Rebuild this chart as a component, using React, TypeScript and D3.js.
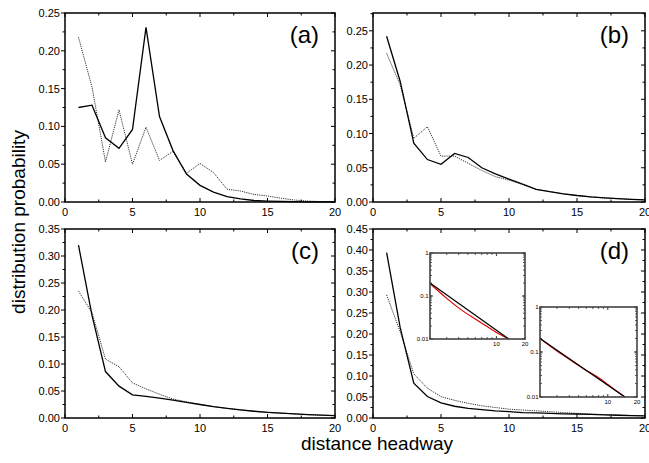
import * as d3 from 'd3';

// distance headway (x values of the main panels)
const headway = [1, 2, 3, 4, 5, 6, 7, 8, 9, 10, 11, 12, 13, 14, 15, 16, 17, 18, 19, 20];

// panel (a)
const aSolid = [0.125, 0.128, 0.085, 0.071, 0.096, 0.231, 0.113, 0.068, 0.037, 0.022, 0.013, 0.007, 0.004, 0.002, 0.0012, 0.0007, 0.0004, 0.0002, 0.0001, 0.0001];
const aDotted = [0.218, 0.152, 0.053, 0.122, 0.050, 0.099, 0.055, 0.067, 0.038, 0.051, 0.039, 0.017, 0.0145, 0.010, 0.008, 0.005, 0.0026, 0.0012, 0.0005, 0.0002];

// panel (b)
const bSolid = [0.242, 0.176, 0.086, 0.062, 0.055, 0.071, 0.065, 0.050, 0.041, 0.0335, 0.026, 0.0185, 0.015, 0.012, 0.0095, 0.0075, 0.006, 0.0048, 0.0038, 0.003];
const bDotted = [0.217, 0.171, 0.093, 0.110, 0.067, 0.067, 0.0565, 0.046, 0.037, 0.032, 0.0255, 0.0185, 0.015, 0.012, 0.0095, 0.0075, 0.006, 0.0048, 0.0038, 0.003];

// panel (c)
const cSolid = [0.320, 0.190, 0.086, 0.059, 0.043, 0.040, 0.037, 0.033, 0.029, 0.025, 0.021, 0.018, 0.015, 0.0125, 0.0105, 0.009, 0.0075, 0.0062, 0.0052, 0.0043];
const cDotted = [0.235, 0.195, 0.109, 0.095, 0.065, 0.054, 0.044, 0.035, 0.030, 0.025, 0.021, 0.018, 0.015, 0.0125, 0.0105, 0.009, 0.0075, 0.0062, 0.0052, 0.0043];

// panel (d)
const dSolid = [0.394, 0.215, 0.083, 0.051, 0.036, 0.028, 0.023, 0.020, 0.017, 0.015, 0.013, 0.012, 0.011, 0.010, 0.0095, 0.0085, 0.0075, 0.0065, 0.0058, 0.005];
const dDotted = [0.293, 0.205, 0.105, 0.071, 0.051, 0.042, 0.035, 0.029, 0.025, 0.021, 0.019, 0.017, 0.015, 0.013, 0.011, 0.0095, 0.0082, 0.007, 0.006, 0.0052];

// insets (log-log)
const inset1FitX = [2, 13.5];
const inset1FitY = [0.2, 0.01];
const inset1DataX = [2, 3, 4, 6, 8, 10, 12, 13.5];
const inset1DataY = [0.195, 0.088, 0.053, 0.029, 0.0195, 0.0142, 0.0114, 0.01];
const inset2FitX = [2, 15];
const inset2FitY = [0.2, 0.01];
const inset2DataX = [2, 3, 4, 6, 8, 10, 12, 15];
const inset2DataY = [0.2, 0.105, 0.069, 0.039, 0.027, 0.019, 0.0141, 0.01];

const xTicks = [0, 5, 10, 15, 20];
const xMinor = [2.5, 7.5, 12.5, 17.5];

const font = 'Arial, "Liberation Sans", Helvetica, sans-serif';
const fmt = d3.format('.2f');

type PanelProps = {
  left: number; top: number; right: number; bottom: number;
  yMax: number; yTickMax: number; label: string;
  solid: number[]; dotted: number[];
};

function Panel({ left, top, right, bottom, yMax, yTickMax, label, solid, dotted }: PanelProps) {
  const x = d3.scaleLinear().domain([0, 20]).range([left, right]);
  const y = d3.scaleLinear().domain([0, yMax]).range([bottom, top]);
  const yMajor = d3.range(0, yTickMax + 1e-9, 0.05);
  const yMinorT = d3.range(0.025, yMax, 0.05);
  const line = d3.line<number>().x((_, i) => x(headway[i])).y(d => y(d));
  const maj = 4, mnr = 2.5;
  return (
    <g>
      <path d={line(dotted) ?? ''} fill="none" stroke="#333" strokeWidth={1} strokeDasharray="1.2,1" />
      <path d={line(solid) ?? ''} fill="none" stroke="#000" strokeWidth={1.3} />
      {/* bottom ticks point up, top ticks point down */}
      {xTicks.map(t => (
        <g key={'xt' + t}>
          <line x1={x(t)} x2={x(t)} y1={bottom} y2={bottom - maj} stroke="#000" />
          <line x1={x(t)} x2={x(t)} y1={top} y2={top + maj} stroke="#000" />
          <text x={x(t)} y={bottom + 14} textAnchor="middle" fontSize={11} fontFamily={font}>{t}</text>
        </g>
      ))}
      {xMinor.map(t => (
        <g key={'xm' + t}>
          <line x1={x(t)} x2={x(t)} y1={bottom} y2={bottom - mnr} stroke="#000" />
          <line x1={x(t)} x2={x(t)} y1={top} y2={top + mnr} stroke="#000" />
        </g>
      ))}
      {/* left ticks point out, right ticks point in */}
      {yMajor.map(t => (
        <g key={'yt' + t}>
          <line x1={left} x2={left - maj} y1={y(t)} y2={y(t)} stroke="#000" />
          <line x1={right} x2={right - maj} y1={y(t)} y2={y(t)} stroke="#000" />
          <text x={left - 5} y={y(t) + 4} textAnchor="end" fontSize={11} fontFamily={font}>{fmt(t)}</text>
        </g>
      ))}
      {yMinorT.map(t => (
        <g key={'ym' + t}>
          <line x1={left} x2={left - mnr} y1={y(t)} y2={y(t)} stroke="#000" />
          <line x1={right} x2={right - mnr} y1={y(t)} y2={y(t)} stroke="#000" />
        </g>
      ))}
      <rect x={left} y={top} width={right - left} height={bottom - top} fill="none" stroke="#000" strokeWidth={1.5} />
      <text x={right - 16} y={top + 30} textAnchor="end" fontSize={24} fontFamily={font}>{label}</text>
    </g>
  );
}

type InsetProps = {
  left: number; top: number; right: number; bottom: number;
  fitX: number[]; fitY: number[]; dataX: number[]; dataY: number[];
};

function Inset({ left, top, right, bottom, fitX, fitY, dataX, dataY }: InsetProps) {
  const x = d3.scaleLog().domain([2, 20]).range([left, right]);
  const y = d3.scaleLog().domain([0.01, 1]).range([bottom, top]);
  const xT = [2, 3, 4, 5, 6, 7, 8, 9, 10, 20];
  const yT = [0.02, 0.03, 0.04, 0.05, 0.06, 0.07, 0.08, 0.09, 0.1, 0.2, 0.3, 0.4, 0.5, 0.6, 0.7, 0.8, 0.9];
  const yMajor = [0.01, 0.1, 1];
  const fit = d3.line<number>().x(d => x(d)).y((_, i) => y(fitY[i]));
  const dat = d3.line<number>().x(d => x(d)).y((_, i) => y(dataY[i])).curve(d3.curveMonotoneX);
  return (
    <g>
      <rect x={left} y={top} width={right - left} height={bottom - top} fill="#fff" />
      <path d={dat(dataX) ?? ''} fill="none" stroke="#e00000" strokeWidth={1.2} />
      <path d={fit(fitX) ?? ''} fill="none" stroke="#000" strokeWidth={1.2} />
      {xT.map(t => (
        <g key={'x' + t}>
          <line x1={x(t)} x2={x(t)} y1={bottom} y2={bottom - (t === 10 ? 3 : 1.8)} stroke="#000" strokeWidth={0.8} />
          <line x1={x(t)} x2={x(t)} y1={top} y2={top + (t === 10 ? 3 : 1.8)} stroke="#000" strokeWidth={0.8} />
        </g>
      ))}
      {yT.map(t => (
        <g key={'y' + t}>
          <line x1={left} x2={left + 1.8} y1={y(t)} y2={y(t)} stroke="#000" strokeWidth={0.8} />
          <line x1={right} x2={right - 1.8} y1={y(t)} y2={y(t)} stroke="#000" strokeWidth={0.8} />
        </g>
      ))}
      {yMajor.map(t => (
        <g key={'ym' + t}>
          <line x1={left} x2={left + 3} y1={y(t)} y2={y(t)} stroke="#000" strokeWidth={0.8} />
          <line x1={right} x2={right - 3} y1={y(t)} y2={y(t)} stroke="#000" strokeWidth={0.8} />
          <text x={left - 1.5} y={y(t) + 2} textAnchor="end" fontSize={6} fontFamily={font}>{String(t)}</text>
        </g>
      ))}
      {[10, 20].map(t => (
        <text key={'xl' + t} x={x(t)} y={bottom + 7} textAnchor="middle" fontSize={6} fontFamily={font}>{t}</text>
      ))}
      <rect x={left} y={top} width={right - left} height={bottom - top} fill="none" stroke="#444" strokeWidth={1.6} />
    </g>
  );
}

export default function App() {
  return (
    <svg width={649} height={463} style={{ position: 'absolute', left: 0, top: 0, background: '#fff' }}>
      <rect width={649} height={463} fill="#fff" />
      <Panel left={65} top={13} right={335} bottom={202} yMax={0.25} yTickMax={0.25} label="(a)" solid={aSolid} dotted={aDotted} />
      <Panel left={373} top={13} right={645} bottom={202} yMax={0.276} yTickMax={0.25} label="(b)" solid={bSolid} dotted={bDotted} />
      <Panel left={65} top={229} right={335} bottom={418} yMax={0.35} yTickMax={0.35} label="(c)" solid={cSolid} dotted={cDotted} />
      <Panel left={373} top={229} right={645} bottom={418} yMax={0.45} yTickMax={0.45} label="(d)" solid={dSolid} dotted={dDotted} />
      <Inset left={430} top={253} right={525} bottom={339} fitX={inset1FitX} fitY={inset1FitY} dataX={inset1DataX} dataY={inset1DataY} />
      <Inset left={540} top={307} right={637} bottom={397} fitX={inset2FitX} fitY={inset2FitY} dataX={inset2DataX} dataY={inset2DataY} />
      <text x={377} y={450} textAnchor="middle" fontSize={19} fontFamily={font}>distance headway</text>
      <text transform="translate(25,222) rotate(-90)" textAnchor="middle" fontSize={19} fontFamily={font}>distribution probability</text>
    </svg>
  );
}
